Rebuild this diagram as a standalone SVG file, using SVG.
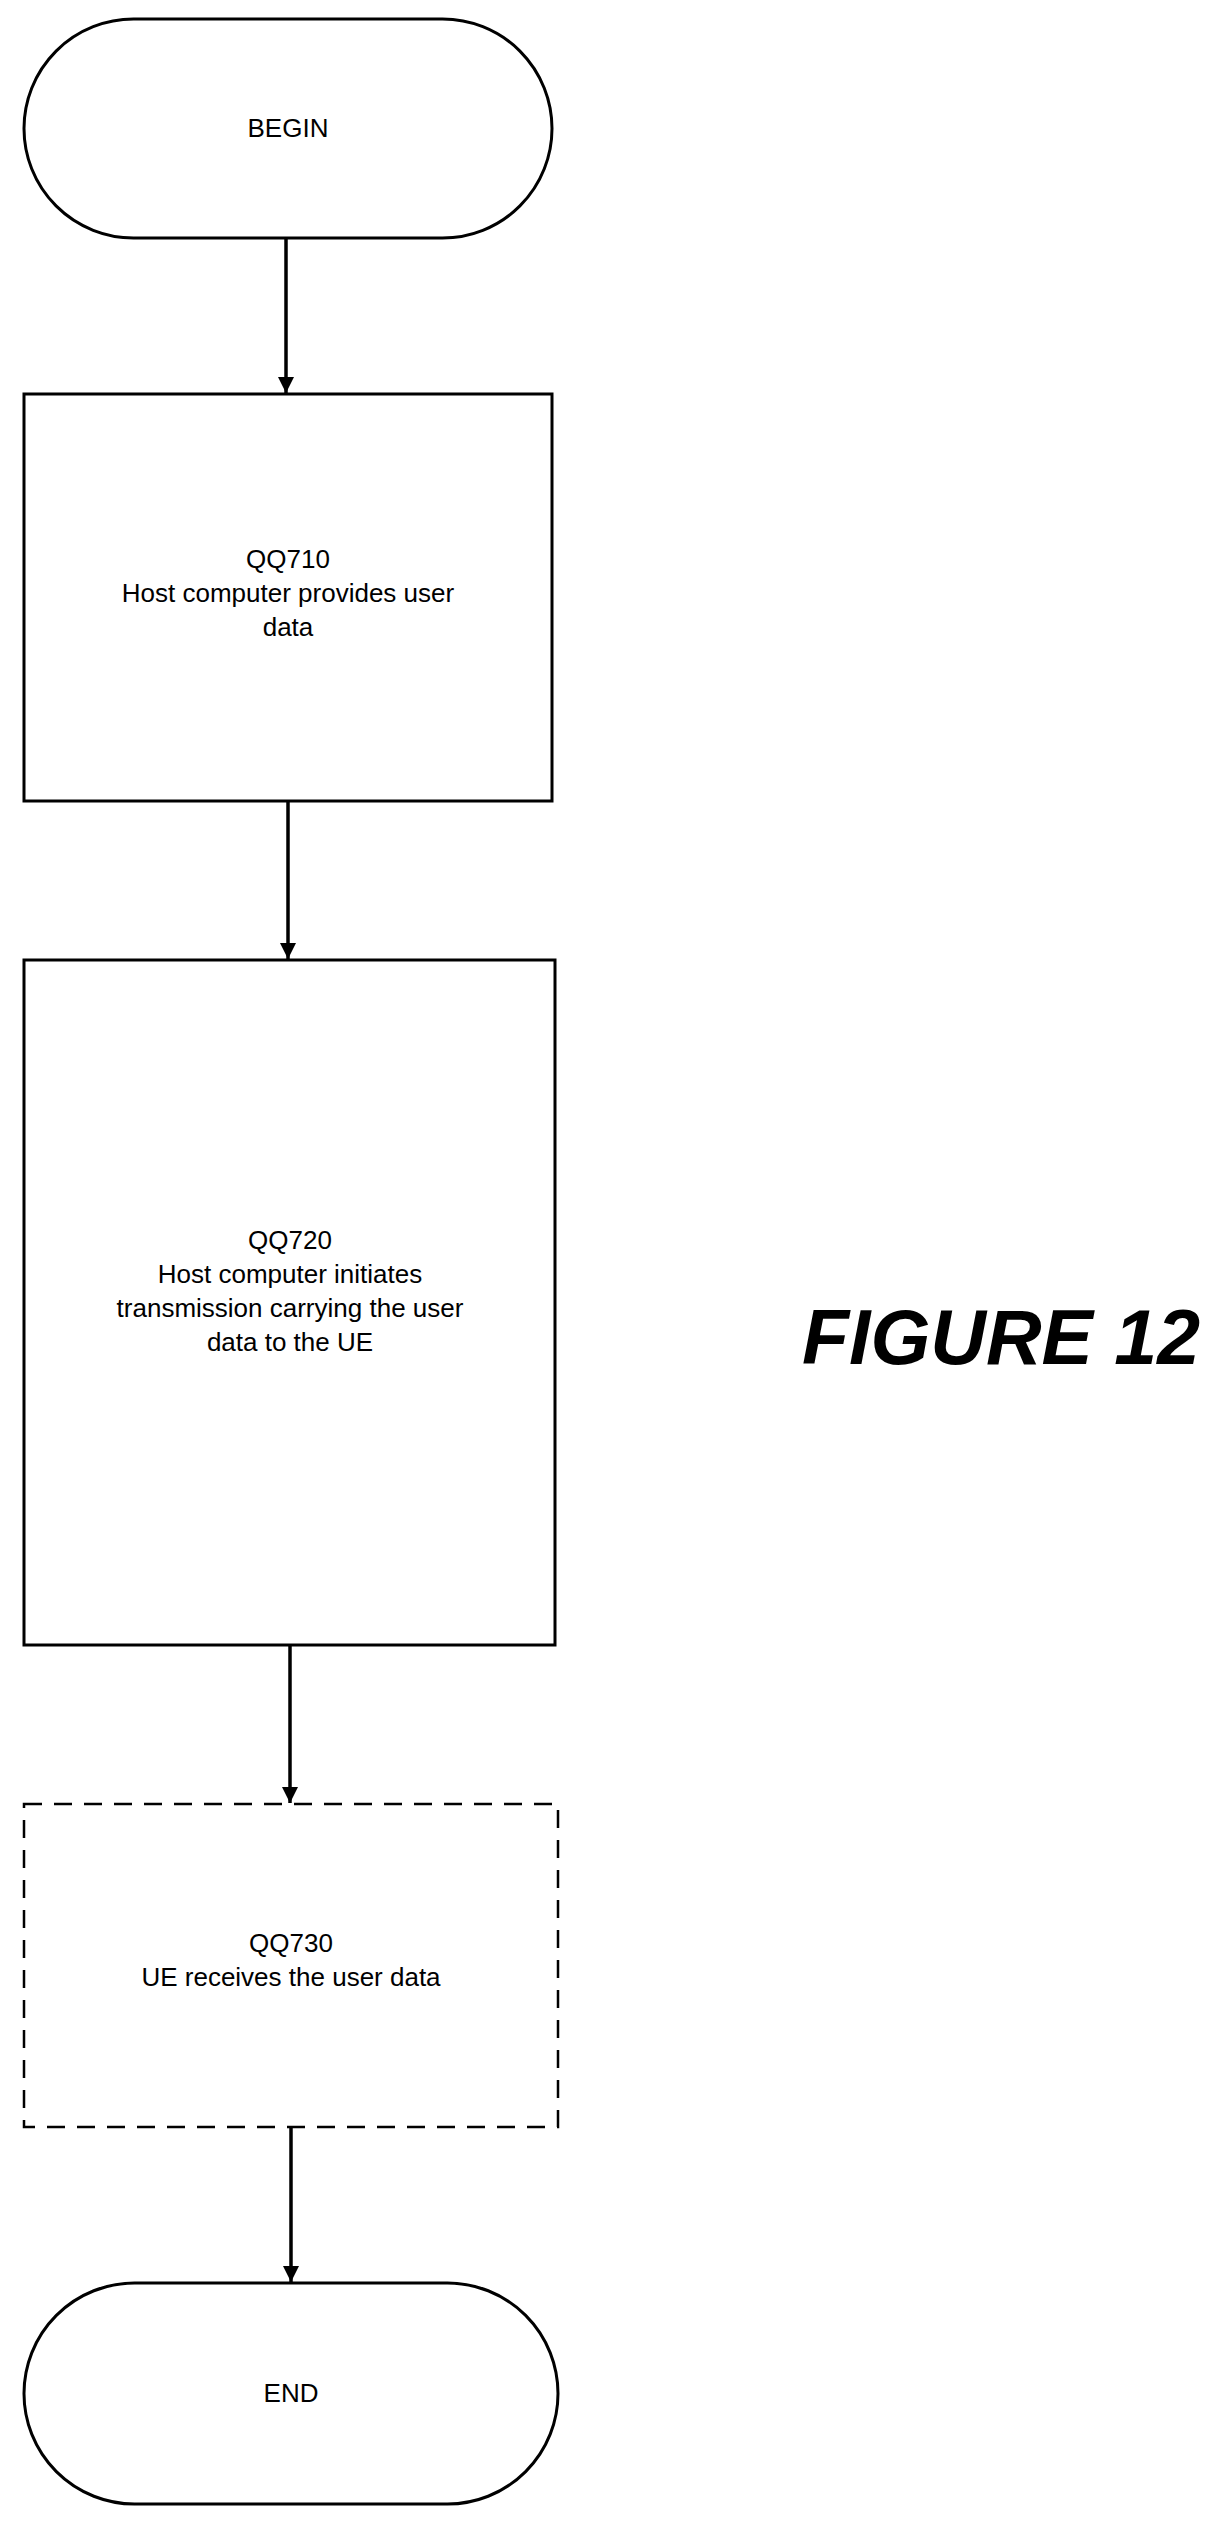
<svg xmlns="http://www.w3.org/2000/svg" width="1216" height="2521" viewBox="0 0 1216 2521">
<defs>
<marker id="ah" viewBox="0 0 10 10" refX="10" refY="5" markerWidth="16" markerHeight="20" markerUnits="userSpaceOnUse" orient="auto"><path d="M0,0 L10,5 L0,10 z" fill="#000"/></marker>
<style>
.s{fill:#fff;stroke:#000;stroke-width:3}
.d{fill:#fff;stroke:#000;stroke-width:2.5;stroke-dasharray:18 12}
.t{font-family:"Liberation Sans","Open Sans",sans-serif;font-size:26px;text-anchor:middle;fill:#000}
.c{stroke:#000;stroke-width:3.5;fill:none;marker-end:url(#ah)}
</style>
</defs>
<rect width="1216" height="2521" fill="#fff"/>
<g id="begin"><rect class="s" x="24" y="19" width="528" height="219" rx="109.5"/><text class="t" x="288" y="137">BEGIN</text></g>
<g id="qq710"><rect class="s" x="24" y="394" width="528" height="407"/><text class="t" x="288" y="568">QQ710</text><text class="t" x="288" y="602">Host computer provides user</text><text class="t" x="288" y="636">data</text></g>
<g id="qq720"><rect class="s" x="24" y="960" width="531" height="685"/><text class="t" x="290" y="1249">QQ720</text><text class="t" x="290" y="1283">Host computer initiates</text><text class="t" x="290" y="1317">transmission carrying the user</text><text class="t" x="290" y="1351">data to the UE</text></g>
<g id="qq730"><rect class="d" x="24" y="1804" width="534" height="323"/><text class="t" x="291" y="1952">QQ730</text><text class="t" x="291" y="1986">UE receives the user data</text></g>
<g id="end"><rect class="s" x="24" y="2283" width="534" height="221" rx="110.5"/><text class="t" x="291" y="2402">END</text></g>
<g id="connectors">
<line class="c" x1="286" y1="238" x2="286" y2="393"/>
<line class="c" x1="288" y1="801" x2="288" y2="959"/>
<line class="c" x1="290" y1="1645" x2="290" y2="1803"/>
<line class="c" x1="291" y1="2127" x2="291" y2="2282"/>
</g>
<text x="1001" y="1364" font-family="Liberation Sans,sans-serif" font-size="77" font-weight="bold" font-style="italic" text-anchor="middle">FIGURE 12</text>
</svg>
